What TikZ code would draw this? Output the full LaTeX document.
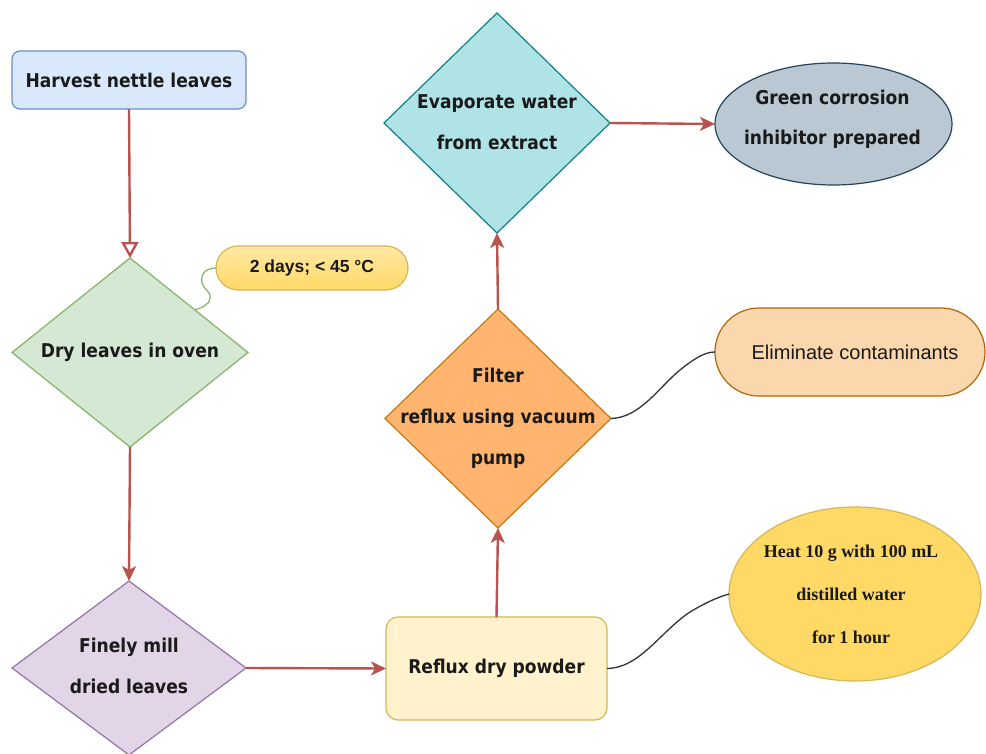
\documentclass[tikz,border=0pt]{standalone}
\usepackage{fontspec}
\usetikzlibrary{shapes.geometric,arrows.meta,calc}
\newfontfamily\dvb{DejaVu Sans}[FakeStretch=0.9]
\newfontfamily\lib{Liberation Sans}
\newfontfamily\libs{Liberation Serif}
\definecolor{txtc}{HTML}{1A1A1A}
\definecolor{arrc}{HTML}{B85450}
\definecolor{blueF}{HTML}{DAE8FC}\definecolor{blueD}{HTML}{6C8EBF}
\definecolor{greenF}{HTML}{D5E8D4}\definecolor{greenD}{HTML}{82B366}
\definecolor{purpF}{HTML}{E1D5E7}\definecolor{purpD}{HTML}{9673A6}
\definecolor{yelF}{HTML}{FFF2CC}\definecolor{yelD}{HTML}{D6B656}
\definecolor{yel2}{HTML}{FFD966}
\definecolor{oraF}{HTML}{FFB570}\definecolor{oraD}{HTML}{C27A14}
\definecolor{cyanF}{HTML}{B0E3E6}\definecolor{cyanD}{HTML}{0E8088}
\definecolor{grayF}{HTML}{BAC8D3}\definecolor{grayD}{HTML}{23445D}
\definecolor{peachF}{HTML}{FAD7AC}\definecolor{peachD}{HTML}{B46504}
\begin{document}
\begin{tikzpicture}[x=1pt,y=-1pt,
  maintxt/.style={font=\dvb\bfseries\fontsize{19}{41}\selectfont, text=txtc, align=center, inner sep=0pt},
  dia/.style={diamond, line width=1.2pt, inner sep=0pt, outer sep=0pt},
  rbox/.style={rectangle, line width=1.2pt, outer sep=0pt},
  arr/.style={draw=arrc, line width=2.4pt, -{Stealth[length=15pt,width=14pt,inset=4pt]}},
  openarr/.style={draw=arrc, line width=2.4pt, -{Triangle[open,length=16pt,width=17pt,fill=white]}},
  link/.style={draw=black!80, line width=1.3pt}
]
\useasboundingbox[fill=white] (0,0) rectangle (986,754);

% nodes
\node[rbox, draw=blueD, fill=blueF, rounded corners=8pt, minimum width=234pt, minimum height=58pt, maintxt] (harvest) at (129,80) {Harvest nettle leaves};

\node[dia, draw=greenD, fill=greenF, minimum width=236pt, minimum height=189pt] (dry) at (130,352.5) {};
\node[maintxt] (dryT) at (dry.center) {Dry leaves in oven};

\node[rbox, draw=yelD, top color=yelF!60!yel2, bottom color=yel2, rounded corners=22pt, minimum width=192pt, minimum height=44pt, font=\lib\bfseries\fontsize{17.5}{20}\selectfont, text=txtc] (note) at (312,268) {2 days; < 45 °C};

\node[dia, draw=purpD, fill=purpF, minimum width=234pt, minimum height=174pt] (mill) at (129,668) {};
\node[maintxt] (millT) at ($(mill.center)+(0,-2)$) {Finely mill\\dried leaves};

\node[rbox, draw=yelD, fill=yelF, rounded corners=12pt, minimum width=221pt, minimum height=103pt, maintxt] (reflux) at (496.5,668.5) {Reflux dry powder};

\node[dia, draw=oraD, fill=oraF, minimum width=226pt, minimum height=219pt] (filt) at (498,418.5) {};
\node[maintxt] (filtT) at (filt.center) {Filter\\reflux using vacuum\\pump};

\node[dia, draw=cyanD, fill=cyanF, minimum width=226pt, minimum height=220pt] (evap) at (497,123) {};
\node[maintxt] (evapT) at ($(evap.center)+(0,-1)$) {Evaporate water\\from extract};

\node[ellipse, line width=1.2pt, draw=grayD, fill=grayF, inner sep=0pt, outer sep=0pt, minimum width=237pt, minimum height=122pt] (green) at (833.5,124) {};
\node[maintxt, font=\dvb\bfseries\fontsize{19}{40}\selectfont] (greenT) at ($(green.center)+(-1,-5)$) {Green corrosion\\inhibitor prepared};

\node[rbox, draw=peachD, fill=peachF, rounded corners=44pt, minimum width=270pt, minimum height=88pt] (elim) at (850,352) {};
\node[font=\lib\fontsize{20}{22}\selectfont, text=txtc, inner sep=0pt] (elimT) at (855,352) {Eliminate contaminants};

\node[ellipse, line width=1.2pt, draw=yelD, fill=yel2, inner sep=0pt, outer sep=0pt, minimum width=252pt, minimum height=174pt] (heat) at (855,594) {};
\node[font=\libs\bfseries\fontsize{18}{43}\selectfont, text=txtc, align=center, inner sep=0pt] (heatT) at (851,594) {Heat 10 g with 100 mL\\distilled water\\for 1 hour};

% connectors
\draw[openarr] (harvest.south) -- (dry.north);
\draw[arr] (dry.south) -- (mill.north);
\draw[arr] (mill.east) -- (reflux.west);
\draw[arr] (reflux.north) -- (filt.south);
\draw[arr] (filt.north) -- (evap.south);
\draw[arr] (evap.east) -- (green.west);

\coordinate (dryedge) at ($(dry.north)!0.55!(dry.east)$);
\draw[draw=greenD, line width=1.2pt] (note.west) .. controls (206,268) and (200,274) .. (202,283)
  .. controls (204,290) and (211,291) .. (210,298)
  .. controls (209,306) and (200,308) .. (dryedge);
\draw[link] (filt.east) .. controls (640,418) and (660,386) .. (680,370) .. controls (695,358) and (705,352) .. (elim.west);
\draw[link] (reflux.east) .. controls (640,668) and (660,632) .. (690,612) .. controls (705,603) and (718,597) .. (heat.west);
\end{tikzpicture}
\end{document}
